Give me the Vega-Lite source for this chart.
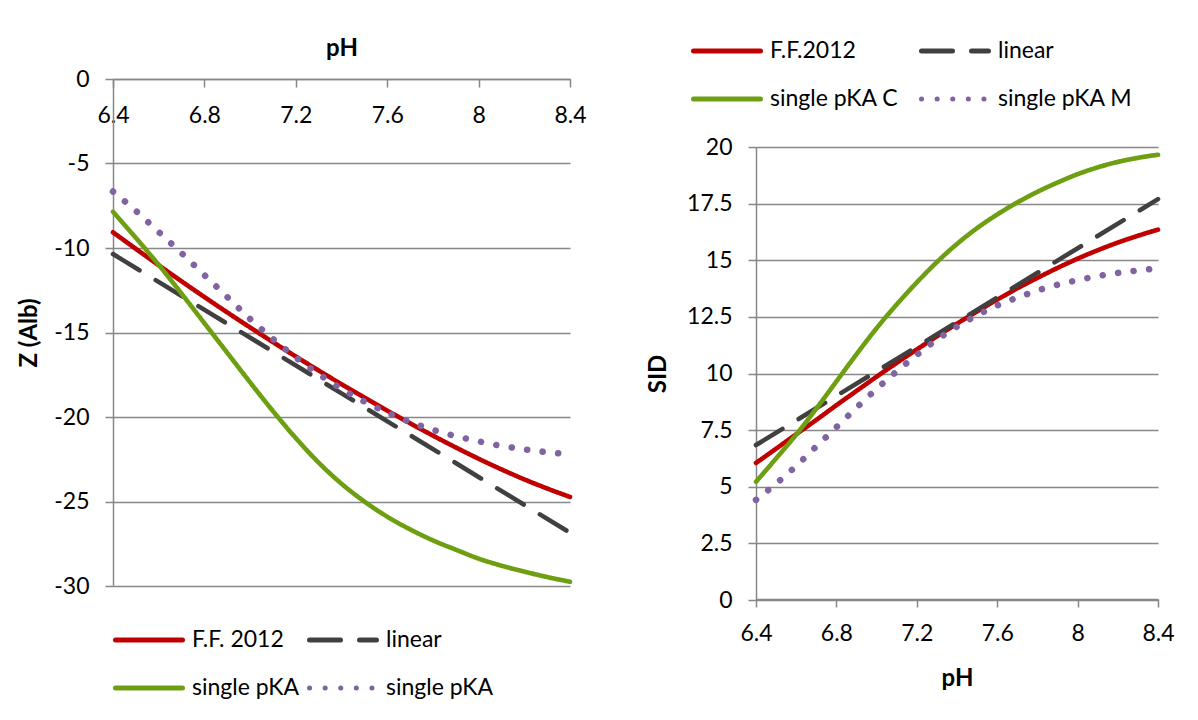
{
  "$schema": "https://vega.github.io/schema/vega-lite/v6.json",
  "padding": {"left": 17, "top": 36, "right": 0, "bottom": 0},
  "spacing": 59,
  "align": "none",
  "background": "white",
  "resolve": {
    "scale": {"color": "independent", "strokeDash": "independent", "x": "independent", "y": "independent"},
    "legend": {"color": "independent", "strokeDash": "independent"}
  },
  "config": {
    "font": "Lato",
    "view": {"stroke": null},
    "axis": {
      "labelFont": "Lato", "labelFontSize": 23, "labelColor": "#000000",
      "titleFont": "Lato", "titleFontSize": 24, "titleFontWeight": "bold", "titleColor": "#000000",
      "domainColor": "#878787", "domainWidth": 1.5,
      "tickColor": "#878787", "tickWidth": 1.5, "tickSize": 8,
      "gridColor": "#878787", "gridWidth": 1.4,
      "labelFlush": false, "labelOverlap": false, "labelBound": false
    },
    "legend": {
      "labelFont": "Lato", "labelFontSize": 23, "labelColor": "#000000",
      "symbolType": "stroke", "symbolSize": 4489, "symbolStrokeWidth": 5,
      "clipHeight": 24, "rowPadding": 24, "labelOffset": 7, "labelLimit": 300
    }
  },
  "datasets": {
    "left": [
      {"pH": 6.4, "series": "F.F. 2012", "v": -9.07}, {"pH": 6.5, "series": "F.F. 2012", "v": -10.05}, {"pH": 6.6, "series": "F.F. 2012", "v": -11.02}, {"pH": 6.7, "series": "F.F. 2012", "v": -11.97}, {"pH": 6.8, "series": "F.F. 2012", "v": -12.9}, {"pH": 6.9, "series": "F.F. 2012", "v": -13.81}, {"pH": 7.0, "series": "F.F. 2012", "v": -14.7}, {"pH": 7.1, "series": "F.F. 2012", "v": -15.57}, {"pH": 7.2, "series": "F.F. 2012", "v": -16.42}, {"pH": 7.3, "series": "F.F. 2012", "v": -17.25}, {"pH": 7.4, "series": "F.F. 2012", "v": -18.06}, {"pH": 7.5, "series": "F.F. 2012", "v": -18.85}, {"pH": 7.6, "series": "F.F. 2012", "v": -19.62}, {"pH": 7.7, "series": "F.F. 2012", "v": -20.37}, {"pH": 7.8, "series": "F.F. 2012", "v": -21.1}, {"pH": 7.9, "series": "F.F. 2012", "v": -21.8}, {"pH": 8.0, "series": "F.F. 2012", "v": -22.47}, {"pH": 8.1, "series": "F.F. 2012", "v": -23.1}, {"pH": 8.2, "series": "F.F. 2012", "v": -23.69}, {"pH": 8.3, "series": "F.F. 2012", "v": -24.23}, {"pH": 8.4, "series": "F.F. 2012", "v": -24.73},
      {"pH": 6.4, "series": "linear", "v": -10.36}, {"pH": 7.4, "series": "linear", "v": -18.6}, {"pH": 8.4, "series": "linear", "v": -26.85},
      {"pH": 6.4, "series": "single pKA C", "v": -7.85}, {"pH": 6.5, "series": "single pKA C", "v": -9.4}, {"pH": 6.6, "series": "single pKA C", "v": -11.0}, {"pH": 6.7, "series": "single pKA C", "v": -12.7}, {"pH": 6.8, "series": "single pKA C", "v": -14.45}, {"pH": 6.9, "series": "single pKA C", "v": -16.2}, {"pH": 7.0, "series": "single pKA C", "v": -17.95}, {"pH": 7.1, "series": "single pKA C", "v": -19.65}, {"pH": 7.2, "series": "single pKA C", "v": -21.25}, {"pH": 7.3, "series": "single pKA C", "v": -22.7}, {"pH": 7.4, "series": "single pKA C", "v": -23.95}, {"pH": 7.5, "series": "single pKA C", "v": -25.0}, {"pH": 7.6, "series": "single pKA C", "v": -25.9}, {"pH": 7.7, "series": "single pKA C", "v": -26.65}, {"pH": 7.8, "series": "single pKA C", "v": -27.3}, {"pH": 7.9, "series": "single pKA C", "v": -27.85}, {"pH": 8.0, "series": "single pKA C", "v": -28.38}, {"pH": 8.1, "series": "single pKA C", "v": -28.8}, {"pH": 8.2, "series": "single pKA C", "v": -29.15}, {"pH": 8.3, "series": "single pKA C", "v": -29.47}, {"pH": 8.4, "series": "single pKA C", "v": -29.75},
      {"pH": 6.4, "series": "single pKA M", "v": -6.66}, {"pH": 6.5, "series": "single pKA M", "v": -7.8}, {"pH": 6.6, "series": "single pKA M", "v": -9.05}, {"pH": 6.7, "series": "single pKA M", "v": -10.3}, {"pH": 6.8, "series": "single pKA M", "v": -11.6}, {"pH": 6.9, "series": "single pKA M", "v": -12.9}, {"pH": 7.0, "series": "single pKA M", "v": -14.2}, {"pH": 7.1, "series": "single pKA M", "v": -15.38}, {"pH": 7.2, "series": "single pKA M", "v": -16.48}, {"pH": 7.3, "series": "single pKA M", "v": -17.46}, {"pH": 7.4, "series": "single pKA M", "v": -18.33}, {"pH": 7.5, "series": "single pKA M", "v": -19.09}, {"pH": 7.6, "series": "single pKA M", "v": -19.74}, {"pH": 7.7, "series": "single pKA M", "v": -20.3}, {"pH": 7.8, "series": "single pKA M", "v": -20.76}, {"pH": 7.9, "series": "single pKA M", "v": -21.13}, {"pH": 8.0, "series": "single pKA M", "v": -21.44}, {"pH": 8.1, "series": "single pKA M", "v": -21.71}, {"pH": 8.2, "series": "single pKA M", "v": -21.91}, {"pH": 8.3, "series": "single pKA M", "v": -22.08}, {"pH": 8.4, "series": "single pKA M", "v": -22.2}
    ],
    "right": [
      {"pH": 6.4, "series": "F.F.2012", "v": 6.05}, {"pH": 6.5, "series": "F.F.2012", "v": 6.68}, {"pH": 6.6, "series": "F.F.2012", "v": 7.32}, {"pH": 6.7, "series": "F.F.2012", "v": 7.95}, {"pH": 6.8, "series": "F.F.2012", "v": 8.6}, {"pH": 6.9, "series": "F.F.2012", "v": 9.23}, {"pH": 7.0, "series": "F.F.2012", "v": 9.86}, {"pH": 7.1, "series": "F.F.2012", "v": 10.47}, {"pH": 7.2, "series": "F.F.2012", "v": 11.06}, {"pH": 7.3, "series": "F.F.2012", "v": 11.64}, {"pH": 7.4, "series": "F.F.2012", "v": 12.2}, {"pH": 7.5, "series": "F.F.2012", "v": 12.74}, {"pH": 7.6, "series": "F.F.2012", "v": 13.26}, {"pH": 7.7, "series": "F.F.2012", "v": 13.76}, {"pH": 7.8, "series": "F.F.2012", "v": 14.22}, {"pH": 7.9, "series": "F.F.2012", "v": 14.66}, {"pH": 8.0, "series": "F.F.2012", "v": 15.07}, {"pH": 8.1, "series": "F.F.2012", "v": 15.44}, {"pH": 8.2, "series": "F.F.2012", "v": 15.78}, {"pH": 8.3, "series": "F.F.2012", "v": 16.08}, {"pH": 8.4, "series": "F.F.2012", "v": 16.35},
      {"pH": 6.4, "series": "linear", "v": 6.84}, {"pH": 7.4, "series": "linear", "v": 12.27}, {"pH": 8.4, "series": "linear", "v": 17.7},
      {"pH": 6.4, "series": "single pKA C", "v": 5.22}, {"pH": 6.5, "series": "single pKA C", "v": 6.25}, {"pH": 6.6, "series": "single pKA C", "v": 7.3}, {"pH": 6.7, "series": "single pKA C", "v": 8.45}, {"pH": 6.8, "series": "single pKA C", "v": 9.65}, {"pH": 6.9, "series": "single pKA C", "v": 10.85}, {"pH": 7.0, "series": "single pKA C", "v": 12.0}, {"pH": 7.1, "series": "single pKA C", "v": 13.05}, {"pH": 7.2, "series": "single pKA C", "v": 14.02}, {"pH": 7.3, "series": "single pKA C", "v": 14.92}, {"pH": 7.4, "series": "single pKA C", "v": 15.72}, {"pH": 7.5, "series": "single pKA C", "v": 16.42}, {"pH": 7.6, "series": "single pKA C", "v": 17.02}, {"pH": 7.7, "series": "single pKA C", "v": 17.55}, {"pH": 7.8, "series": "single pKA C", "v": 18.02}, {"pH": 7.9, "series": "single pKA C", "v": 18.43}, {"pH": 8.0, "series": "single pKA C", "v": 18.8}, {"pH": 8.1, "series": "single pKA C", "v": 19.1}, {"pH": 8.2, "series": "single pKA C", "v": 19.34}, {"pH": 8.3, "series": "single pKA C", "v": 19.52}, {"pH": 8.4, "series": "single pKA C", "v": 19.66},
      {"pH": 6.4, "series": "single pKA M", "v": 4.42}, {"pH": 6.5, "series": "single pKA M", "v": 5.14}, {"pH": 6.6, "series": "single pKA M", "v": 5.92}, {"pH": 6.7, "series": "single pKA M", "v": 6.78}, {"pH": 6.8, "series": "single pKA M", "v": 7.63}, {"pH": 6.9, "series": "single pKA M", "v": 8.49}, {"pH": 7.0, "series": "single pKA M", "v": 9.32}, {"pH": 7.1, "series": "single pKA M", "v": 10.09}, {"pH": 7.2, "series": "single pKA M", "v": 10.82}, {"pH": 7.3, "series": "single pKA M", "v": 11.49}, {"pH": 7.4, "series": "single pKA M", "v": 12.07}, {"pH": 7.5, "series": "single pKA M", "v": 12.57}, {"pH": 7.6, "series": "single pKA M", "v": 13.0}, {"pH": 7.7, "series": "single pKA M", "v": 13.35}, {"pH": 7.8, "series": "single pKA M", "v": 13.66}, {"pH": 7.9, "series": "single pKA M", "v": 13.92}, {"pH": 8.0, "series": "single pKA M", "v": 14.12}, {"pH": 8.1, "series": "single pKA M", "v": 14.3}, {"pH": 8.2, "series": "single pKA M", "v": 14.44}, {"pH": 8.3, "series": "single pKA M", "v": 14.55}, {"pH": 8.4, "series": "single pKA M", "v": 14.65}
    ]
  },
  "hconcat": [
    {
      "width": 457,
      "height": 507,
      "data": {"name": "left"},
      "encoding": {
        "x": {
          "field": "pH", "type": "quantitative",
          "scale": {"domain": [6.4, 8.4], "nice": false, "zero": false},
          "axis": {
            "orient": "top", "values": [6.4, 6.8, 7.2, 7.6, 8, 8.4], "grid": false,
            "tickSize": -8, "labelPadding": -28.5, "labelBaseline": "middle",
            "labelExpr": "'' + datum.value", "title": "pH", "titlePadding": 18
          }
        },
        "y": {
          "field": "v", "type": "quantitative",
          "scale": {"domain": [-30, 0], "nice": false},
          "axis": {
            "values": [-30, -25, -20, -15, -10, -5, 0], "labelPadding": 16,
            "labelExpr": "'' + datum.value", "title": "Z (Alb)", "titlePadding": 12
          }
        },
        "color": {
          "field": "series", "type": "nominal",
          "scale": {"domain": ["F.F. 2012", "linear", "single pKA C", "single pKA M"], "range": ["#C00000", "#404040", "#6E9F12", "#8064A2"]},
          "legend": {
            "title": null, "orient": "bottom", "direction": "horizontal", "columns": 2, "columnPadding": 7, "offset": 42,
            "labelExpr": "replace(replace(datum.label, ' C', ''), ' M', '')",
            "encode": {"symbols": {"update": {"strokeCap": {"value": "round"}}}}
          }
        },
        "strokeDash": {
          "field": "series", "type": "nominal",
          "scale": {"domain": ["F.F. 2012", "linear", "single pKA C", "single pKA M"], "range": [[1, 0], [31, 19], [1, 0], [0.1, 15.5]]},
          "legend": {
            "title": null, "orient": "bottom", "direction": "horizontal", "columns": 2, "columnPadding": 7, "offset": 42,
            "labelExpr": "replace(replace(datum.label, ' C', ''), ' M', '')",
            "encode": {"symbols": {"update": {"strokeCap": {"value": "round"}}}}
          }
        }
      },
      "layer": [
        {
          "transform": [{"filter": "datum.series != 'single pKA M'"}],
          "mark": {"type": "line", "strokeWidth": 4.6, "strokeCap": "round", "strokeJoin": "round", "interpolate": "monotone"}
        },
        {
          "transform": [{"filter": "datum.series == 'single pKA M'"}],
          "mark": {"type": "line", "strokeWidth": 6.5, "strokeCap": "round", "strokeJoin": "round", "interpolate": "monotone"}
        }
      ]
    },
    {
      "width": 402,
      "height": 520,
      "data": {"name": "right"},
      "encoding": {
        "x": {
          "field": "pH", "type": "quantitative",
          "scale": {"domain": [6.4, 8.4], "nice": false, "zero": false},
          "axis": {
            "orient": "bottom", "values": [6.4, 6.8, 7.2, 7.6, 8, 8.4], "grid": false,
            "labelPadding": 26, "labelBaseline": "middle",
            "labelExpr": "'' + datum.value", "title": "pH", "titlePadding": 21
          }
        },
        "y": {
          "field": "v", "type": "quantitative",
          "scale": {"domain": [0, 20], "nice": false, "range": [521, 68]},
          "axis": {
            "values": [0, 2.5, 5, 7.5, 10, 12.5, 15, 17.5, 20], "labelPadding": 16,
            "labelExpr": "'' + datum.value", "title": "SID", "titlePadding": 16
          }
        },
        "color": {
          "field": "series", "type": "nominal",
          "scale": {"domain": ["F.F.2012", "linear", "single pKA C", "single pKA M"], "range": ["#C00000", "#404040", "#6E9F12", "#8064A2"]},
          "legend": {
            "title": null, "orient": "none", "legendX": -65, "legendY": -40, "direction": "horizontal", "columns": 2, "columnPadding": 20,
            "encode": {"symbols": {"update": {"strokeCap": {"value": "round"}}}}
          }
        },
        "strokeDash": {
          "field": "series", "type": "nominal",
          "scale": {"domain": ["F.F.2012", "linear", "single pKA C", "single pKA M"], "range": [[1, 0], [31, 19], [1, 0], [0.1, 15.5]]},
          "legend": {
            "title": null, "orient": "none", "legendX": -65, "legendY": -40, "direction": "horizontal", "columns": 2, "columnPadding": 20,
            "encode": {"symbols": {"update": {"strokeCap": {"value": "round"}}}}
          }
        }
      },
      "layer": [
        {
          "transform": [{"filter": "datum.series != 'single pKA M'"}],
          "mark": {"type": "line", "strokeWidth": 4.6, "strokeCap": "round", "strokeJoin": "round", "interpolate": "monotone"}
        },
        {
          "transform": [{"filter": "datum.series == 'single pKA M'"}],
          "mark": {"type": "line", "strokeWidth": 6.5, "strokeCap": "round", "strokeJoin": "round", "interpolate": "monotone"}
        }
      ]
    }
  ]
}
